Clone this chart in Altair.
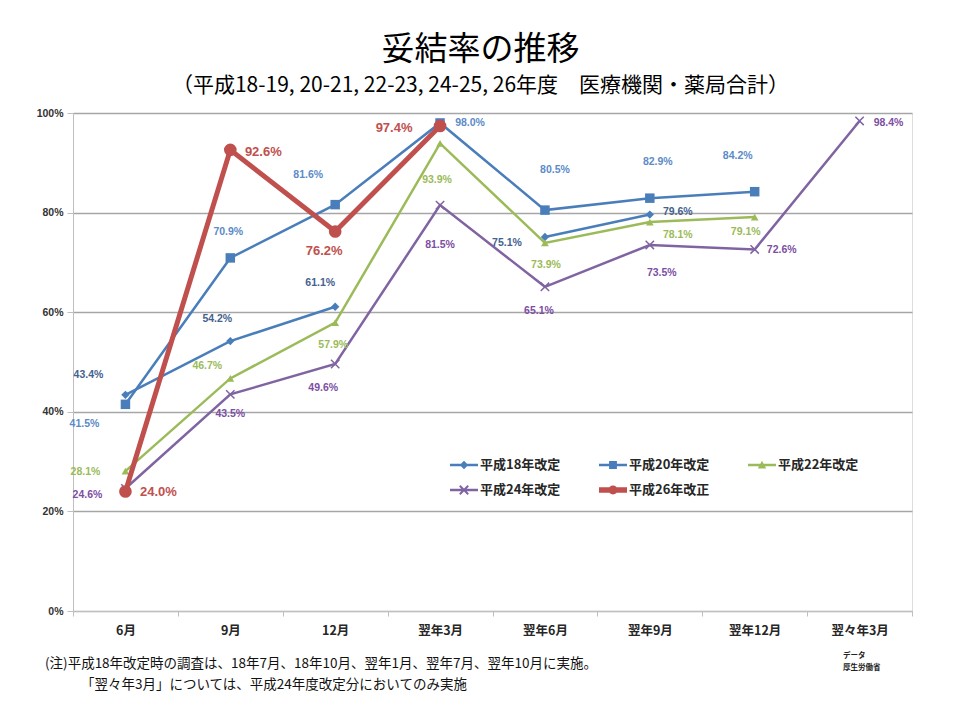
import altair as alt
import pandas as pd

# ---------------- data ----------------
months = ["6月", "9月", "12月", "翌年3月", "翌年6月", "翌年9月", "翌年12月", "翌々年3月"]
series_names = ["平成18年改定", "平成20年改定", "平成22年改定", "平成24年改定", "平成26年改正"]

h18 = [43.4, 54.2, 61.1, None, 75.1, 79.6, None, None]
h20 = [41.5, 70.9, 81.6, 98.0, 80.5, 82.9, 84.2, None]
h22 = [28.1, 46.7, 57.9, 93.9, 73.9, 78.1, 79.1, None]
h24 = [24.6, 43.5, 49.6, 81.5, 65.1, 73.5, 72.6, 98.4]
h26 = [24.0, 92.6, 76.2, 97.4, None, None, None, None]

# label placement: pixel offsets of each value label from its point
h18_dx = [-37, -13, -15, 0, -38, 28, 0, 0]
h18_dy = [-20, -22, -24, 0, 6, -3, 0, 0]
h20_dx = [-41, -2, -27, 30, 10, 8, -17, 0]
h20_dy = [20, -26, -30, 0, -40, -36, -36, 0]
h22_dx = [-40, -23, -2, -3, 1, 28, -9, 0]
h22_dy = [1, -12, 22, 37, 22, 13, 15, 0]
h24_dx = [-38, 0, -12, 0, -6, 12, 27, 29]
h24_dy = [7, 20, 24, 40, 24, 28, 1, 2]
h26_dx = [33, 33, -11, -46, 0, 0, 0, 0]
h26_dy = [1, 2, 19, 2, 0, 0, 0, 0]

values = [h18, h20, h22, h24, h26]
dxs = [h18_dx, h20_dx, h22_dx, h24_dx, h26_dx]
dys = [h18_dy, h20_dy, h22_dy, h24_dy, h26_dy]

note1 = "(注)平成18年改定時の調査は、18年7月、18年10月、翌年1月、翌年7月、翌年10月に実施。"
note2 = "「翌々年3月」については、平成24年度改定分においてのみ実施"
source_lines = ["データ", "厚生労働省"]

# ---------------- styles ----------------
CJK = "Noto Sans CJK JP"
LAT = "Liberation Sans"
PLOT_W, PLOT_H = 839, 498
HALF_BAND = PLOT_W / len(months) / 2
PX_PER_UNIT = PLOT_H / 100.0
line_colors = ["#4a7ebb", "#4a7ebb", "#9bbb59", "#8064a2", "#c0504d"]
label_colors = ["#44628f", "#5b8bc8", "#9bbb59", "#7d4ea3", "#c0504d"]
line_widths = [2.5, 2.5, 2.5, 2.5, 5]
shapes = ["diamond", "square", "triangle-up", "M-1,-1L1,1M-1,1L1,-1", "circle"]
sizes = [70, 90, 60, 70, 160]
label_sizes = [10.5, 10.5, 10.5, 10.5, 13]

legend_shapes = [
    "M-1,-0.09H1V0.09H-1Z M0,-0.3L0.3,0L0,0.3L-0.3,0Z",
    "M-1,-0.09H1V0.09H-1Z M-0.28,-0.28H0.28V0.28H-0.28Z",
    "M-1,-0.09H1V0.09H-1Z M0,-0.3L0.3,0.25H-0.3Z",
    "M-1,-0.09H1V0.09H-1Z M-0.35,-0.25L-0.25,-0.35L0.35,0.25L0.25,0.35Z M-0.35,0.25L0.25,-0.35L0.35,-0.25L-0.25,0.35Z",
    "M-1,-0.2H1V0.2H-1Z M-0.32,0A0.32,0.32 0 1,1 0.32,0A0.32,0.32 0 1,1 -0.32,0Z",
]

rows = []
for name, vals, dx, dy in zip(series_names, values, dxs, dys):
    seg = 0
    for m, v, a, b in zip(months, vals, dx, dy):
        if v is None:
            seg += 1
        rows.append({
            "series": name, "month": m, "value": v,
            "dx": a + HALF_BAND,
            "label_y": None if v is None else v - b / PX_PER_UNIT,
            "seg": seg, "label": None if v is None else f"{v:.1f}%",
        })
df = pd.DataFrame(rows)

x_enc = alt.X(
    "month:N", sort=months,
    scale=alt.Scale(type="band", domain=months, paddingInner=0, paddingOuter=0),
    axis=alt.Axis(title=None, tickBand="extent", labelFont=CJK, labelFontWeight="bold",
                  labelFontSize=12.5, labelColor="#262626", labelPadding=8,
                  domainColor="#bfbfbf", tickColor="#bfbfbf", tickSize=5, grid=False,
                  labelAngle=0),
)
y_axis = alt.Axis(title=None, values=[0, 20, 40, 60, 80, 100], labelExpr="datum.value + '%'",
                  labelFont=LAT, labelFontWeight="bold", labelFontSize=10.5,
                  labelColor="#333333", labelPadding=4, domainColor="#bfbfbf",
                  tickColor="#bfbfbf", tickSize=6, grid=True, gridColor="#a6a6a6",
                  gridWidth=1.3)
y_scale = alt.Scale(domain=[0, 100], nice=False)
y_enc = alt.Y("value:Q", scale=y_scale, axis=y_axis)
y_lab = alt.Y("label_y:Q", scale=y_scale, axis=y_axis)

base = alt.Chart(df)
layers = []

legend_props = dict(title=None, orient="none", legendX=370, legendY=331, direction="horizontal",
                    columns=3, gridAlign="all", columnPadding=38, rowPadding=4, padding=7,
                    fillColor="white", symbolSize=784, symbolOpacity=1, symbolStrokeWidth=0,
                    labelFont=CJK, labelFontSize=13, labelFontWeight="bold",
                    labelColor="#262626", labelOffset=2, labelLimit=200)

# invisible layer that only provides the legend
legend_layer = base.transform_filter("datum.value != null").mark_point(filled=True, opacity=0).encode(
    x=x_enc, y=y_enc,
    color=alt.Color("series:N", scale=alt.Scale(domain=series_names, range=line_colors),
                    legend=alt.Legend(**legend_props)),
    shape=alt.Shape("series:N", scale=alt.Scale(domain=series_names, range=legend_shapes),
                    legend=alt.Legend(**legend_props)),
)
layers.append(legend_layer)

for i, name in enumerate(series_names):
    sub = base.transform_filter(alt.datum.series == name)
    line = sub.transform_filter("datum.value != null").mark_line(
        color=line_colors[i], strokeWidth=line_widths[i]
    ).encode(x=x_enc, y=y_enc, detail="seg:N")
    if i == 3:
        pts = sub.transform_filter("datum.value != null").mark_point(
            filled=False, shape=shapes[i], size=sizes[i], color=line_colors[i],
            strokeWidth=1.5, opacity=1
        ).encode(x=x_enc, y=y_enc)
    else:
        pts = sub.transform_filter("datum.value != null").mark_point(
            filled=True, shape=shapes[i], size=sizes[i], color=line_colors[i], opacity=1
        ).encode(x=x_enc, y=y_enc)
    layers.extend([line, pts])

for i, name in enumerate(series_names):
    sub = base.transform_filter(alt.datum.series == name).transform_filter("datum.value != null")
    txt = sub.mark_text(font=LAT, fontWeight="bold", fontSize=label_sizes[i],
                        color=label_colors[i], baseline="middle", align="center").encode(
        x=x_enc, y=y_lab,
        xOffset=alt.XOffset("dx:Q", scale=None),
        text="label:N",
    )
    layers.append(txt)

n1 = alt.Chart(pd.DataFrame({"t": [note1]})).mark_text(
    font=CJK, fontSize=13.5, align="left", baseline="middle", color="#111111"
).encode(x=alt.value(-28), y=alt.value(551), text="t:N")
n2 = alt.Chart(pd.DataFrame({"t": [note2]})).mark_text(
    font=CJK, fontSize=13.5, align="left", baseline="middle", color="#111111"
).encode(x=alt.value(8), y=alt.value(572), text="t:N")
src1 = alt.Chart(pd.DataFrame({"t": [source_lines[0]]})).mark_text(
    font=CJK, fontSize=7.5, fontWeight="bold", align="left", baseline="middle", color="#222222"
).encode(x=alt.value(770), y=alt.value(543), text="t:N")
src2 = alt.Chart(pd.DataFrame({"t": [source_lines[1]]})).mark_text(
    font=CJK, fontSize=7.5, fontWeight="bold", align="left", baseline="middle", color="#222222"
).encode(x=alt.value(770), y=alt.value(555), text="t:N")
layers.extend([n1, n2, src1, src2])

chart = alt.layer(*layers).properties(
    width=PLOT_W, height=PLOT_H,
    padding={"left": 65, "top": 105, "right": 40, "bottom": 101},
    autosize=alt.AutoSizeParams(type="none"),
    title=alt.TitleParams(
        text="妥結率の推移",
        subtitle="（平成18-19, 20-21, 22-23, 24-25, 26年度　医療機関・薬局合計）",
        anchor="middle", frame="group", dx=-12, offset=12,
        font=CJK, fontSize=33, fontWeight="normal", color="#000000",
        subtitleFont=CJK, subtitleFontSize=21, subtitleColor="#000000", subtitlePadding=8,
    ),
).configure_view(fill="#f2f2f2", stroke=None).configure(background="white")

chart.save("out.html", embed_options={"renderer": "svg", "actions": False})
